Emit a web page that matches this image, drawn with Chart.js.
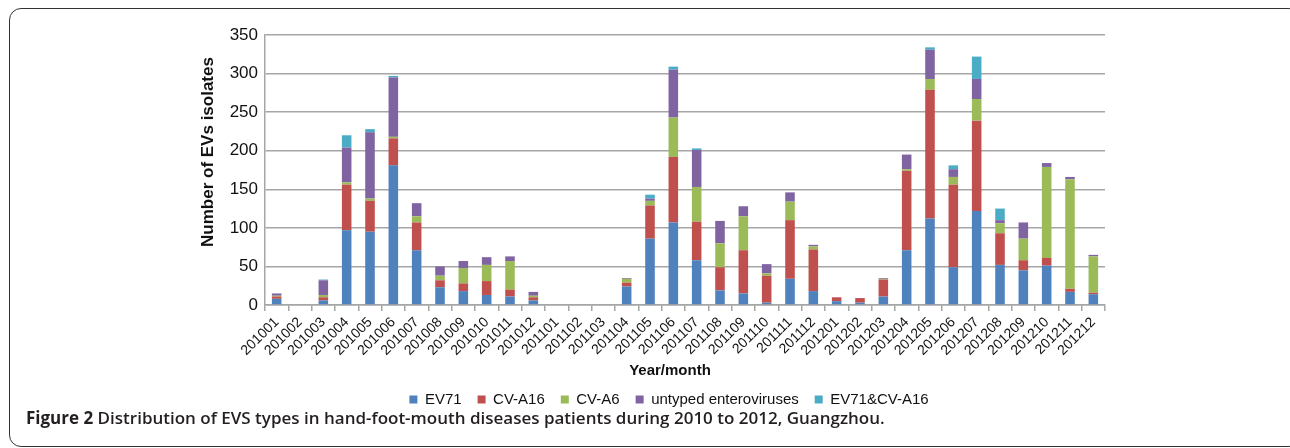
<!DOCTYPE html>
<html>
<head>
<meta charset="utf-8">
<script src="https://cdn.jsdelivr.net/npm/chart.js@4"></script>
<style>
  body { margin: 0; width: 1290px; height: 448px; background: #fff; position: relative; overflow: hidden; }
  #frame { position: absolute; left: 9px; top: 8px; width: 1290px; height: 437px; border: 1.5px solid #333; border-radius: 12px; }
  #chart { position: absolute; left: 0; top: 0; }
  #ytitle { position: absolute; left: 58px; top: 142px; width: 300px; text-align: center; font: bold 17px "Liberation Sans", Arial, sans-serif; color: #111; transform: rotate(-90deg); line-height: 20px; }
  #xtitle { position: absolute; left: 570px; top: 361px; width: 200px; text-align: center; font: bold 15px "Liberation Sans", Arial, sans-serif; color: #111; }
  #caption { position: absolute; left: 26px; top: 406px; font: 600 17px "Open Sans", sans-serif; color: #231f20; white-space: nowrap; }
  #caption b { font-weight: 700; }
</style>
</head>
<body>
<div id="frame"></div>
<canvas id="chart" width="1290" height="448"></canvas>
<div id="ytitle">Number of EVs isolates</div>
<div id="xtitle">Year/month</div>
<div id="caption"><b>Figure 2</b> Distribution of EVS types in hand-foot-mouth diseases patients during 2010 to 2012, Guangzhou.</div>

<script>
// months 2010-2012
var months = [
  '201001','201002','201003','201004','201005','201006','201007','201008','201009','201010','201011','201012',
  '201101','201102','201103','201104','201105','201106','201107','201108','201109','201110','201111','201112',
  '201201','201202','201203','201204','201205','201206','201207','201208','201209','201210','201211','201212'
];

var ev71 = [8,0,6,97,95,181,71,23,18,13,11,6,
            1,1,0,24,86,107,58,19,15,3,34,18,
            5,3,11,71,112,49,122,52,45,51,17,14];
var cvA16 = [3,0,4,59,40,35,36,9,10,18,9,4,
             0,0,0,5,43,85,50,30,56,35,76,54,
             5,6,22,103,167,107,117,41,13,10,4,2];
var cvA6 = [1,0,3,3,3,2,8,6,20,21,37,2,
            0,0,0,5,6,51,45,31,44,3,24,4,
            0,0,1,2,14,10,28,13,28,118,142,47];
var untyped = [3,0,19,45,86,77,17,12,9,10,6,5,
               0,0,0,1,3,62,48,29,13,12,12,2,
               0,0,1,19,38,10,26,4,21,5,3,2];
var ev71cvA16 = [0,0,1,16,4,2,0,0,0,0,0,0,
                 0,0,0,0,5,4,2,0,0,0,0,0,
                 0,0,0,0,3,5,29,15,0,0,0,0];

var yTicks = [0,50,100,150,200,250,300,350];

var seriesNames = ['EV71','CV-A16','CV-A6','untyped enteroviruses','EV71&CV-A16'];
var seriesColors = ['#4F81BD','#C0504D','#9BBB59','#8064A2','#4BACC6'];
var seriesData = [ev71, cvA16, cvA6, untyped, ev71cvA16];

var gridGray = '#a6a6a6';

var datasets = seriesData.map(function(d, i) {
  return {
    label: seriesNames[i],
    data: d,
    backgroundColor: seriesColors[i],
    borderWidth: 0,
    barPercentage: 0.41,
    categoryPercentage: 1
  };
});

// legend in the figure sits a bit right of the page centre
var legendShift = {
  id: 'legendShift',
  afterLayout: function(chart) {
    chart.legend.left += 19;
    chart.legend.right += 19;
  }
};

new Chart(document.getElementById('chart'), {
  type: 'bar',
  data: { labels: months, datasets: datasets },
  plugins: [legendShift],
  options: {
    responsive: false,
    animation: false,
    layout: { padding: { left: 195, right: 185, top: 35, bottom: 31 } },
    plugins: {
      tooltip: { enabled: false },
      legend: {
        position: 'bottom',
        labels: {
          boxWidth: 8,
          boxHeight: 8,
          padding: 16,
          color: '#111',
          font: { family: 'Liberation Sans', size: 15 }
        }
      }
    },
    scales: {
      x: {
        stacked: true,
        offset: true,
        grid: { drawOnChartArea: false, offset: true, tickLength: 6, color: gridGray, lineWidth: 1.5 },
        border: { color: gridGray, width: 1.5 },
        ticks: {
          autoSkip: false,
          maxRotation: 45,
          minRotation: 45,
          padding: 3,
          color: '#111',
          font: { family: 'Liberation Sans', size: 14 }
        },
        afterFit: function(s) { s.height = 71; }
      },
      y: {
        stacked: true,
        min: 0,
        max: 350,
        afterBuildTicks: function(s) { s.ticks = yTicks.map(function(v) { return { value: v }; }); },
        grid: { drawTicks: false, color: gridGray, lineWidth: 1.5 },
        border: { color: gridGray, width: 1.5 },
        ticks: {
          padding: 7,
          color: '#111',
          font: { family: 'Liberation Sans', size: 17 }
        },
        afterFit: function(s) { s.width = 70; }
      }
    }
  }
});
</script>
</body>
</html>
